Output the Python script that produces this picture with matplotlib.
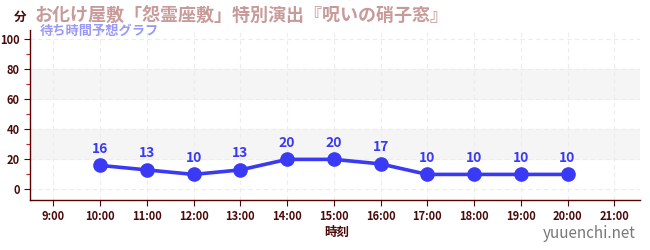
import matplotlib
matplotlib.use("Agg")
from matplotlib import pyplot as plt
from matplotlib.ticker import MultipleLocator

plt.rcParams['font.family'] = ['Noto Sans CJK JP', 'DejaVu Sans']

# data
hours = [10, 11, 12, 13, 14, 15, 16, 17, 18, 19, 20]
waits = [16, 13, 10, 13, 20, 20, 17, 10, 10, 10, 10]
tick_hours = list(range(9, 22))
tick_labels = ["%d:00" % h for h in tick_hours]

title = "お化け屋敷「怨霊座敷」特別演出『呪いの硝子窓』"
subtitle = "待ち時間予想グラフ"

dark = "#4a0a0a"
blue = "#3a3af5"

fig = plt.figure(figsize=(6.5, 2.5), dpi=100)
ax = fig.add_axes([30/650, 50/250, 610/650, 170/250])

ax.set_xlim(8.5, 21.55)
ax.set_ylim(-7, 106)

# shaded bands
for lo, hi in [(20, 40), (60, 80)]:
    ax.axhspan(lo, hi, color="#f5f5f5", zorder=0)

ax.grid(True, color="#ececec", linestyle=(0, (4, 3)), linewidth=0.8, zorder=0)
ax.set_axisbelow(True)

ax.plot(hours, waits, color=blue, linewidth=2.6, marker="o", markersize=9.5, zorder=3)
for h, w in zip(hours, waits):
    ax.annotate(str(w), (h, w), xytext=(0, 7), textcoords="offset points",
                ha="center", va="bottom", color=blue, fontsize=10, fontweight="bold")

ax.set_xticks(tick_hours)
ax.set_xticklabels(tick_labels)
ax.set_yticks(range(0, 101, 20))
ax.yaxis.set_minor_locator(MultipleLocator(10))

for s in ["top", "right"]:
    ax.spines[s].set_visible(False)
for s in ["left", "bottom"]:
    ax.spines[s].set_color("#5a0000")
    ax.spines[s].set_linewidth(1)

ax.tick_params(axis="both", which="major", colors=dark, labelsize=8, length=4, width=0.8)
ax.tick_params(axis="y", which="minor", color="#cc2222", length=3, width=0.8)
for lab in ax.get_xticklabels() + ax.get_yticklabels():
    lab.set_fontweight("bold")
    lab.set_color(dark)

fig.text(337/650, 1 - 232/250, "時刻", ha="center", va="center", fontsize=9, fontweight="bold", color=dark)
fig.text(20/650, 1 - 17/250, "分", ha="center", va="center", fontsize=9, fontweight="bold", color=dark)
fig.text(35/650, 1 - 15/250, title, ha="left", va="center", fontsize=13, fontweight="bold", color="#c89a9a")
fig.text(40/650, 1 - 31/250, subtitle, ha="left", va="center", fontsize=9.5, fontweight="bold", color="#9a9af5")
fig.text(636/650, 1 - 234/250, "yuuenchi.net", ha="right", va="center", fontsize=11, color="#777777")

fig.savefig("out.png", dpi=100)
